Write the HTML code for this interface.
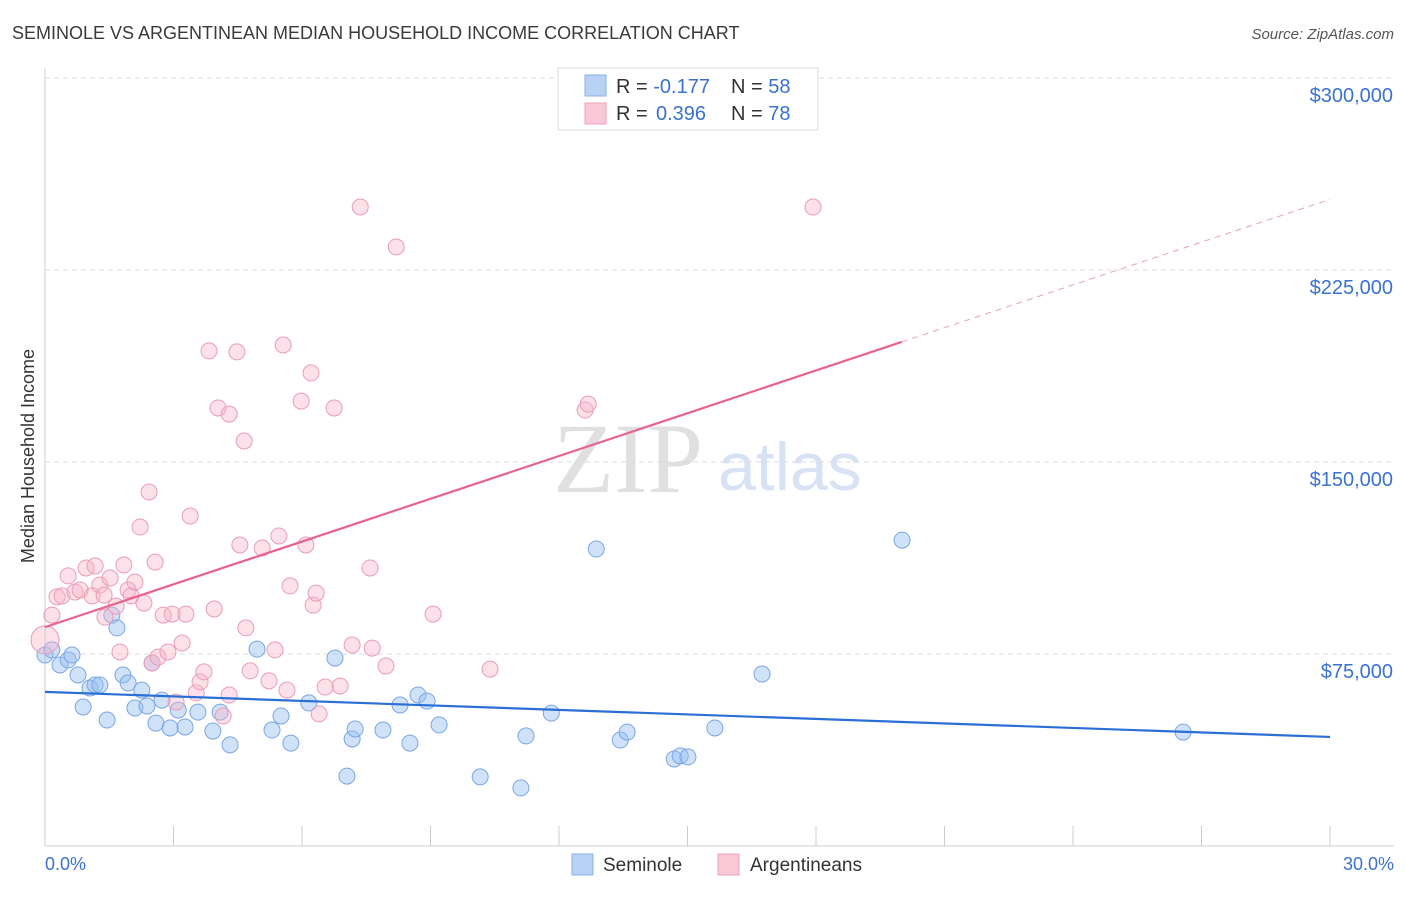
<!DOCTYPE html>
<html><head><meta charset="utf-8"><style>
body{margin:0;background:#fff;font-family:"Liberation Sans",sans-serif;}
</style></head><body>
<svg id="c" width="1406" height="892" xmlns="http://www.w3.org/2000/svg" font-family="Liberation Sans, sans-serif">
<text x="12" y="39" font-size="18" fill="#3a3a3a">SEMINOLE VS ARGENTINEAN MEDIAN HOUSEHOLD INCOME CORRELATION CHART</text>
<text x="1394" y="39" font-size="15" fill="#555" font-style="italic" text-anchor="end">Source: ZipAtlas.com</text>
<text x="553" y="492" font-size="100" fill="#e0e0e0" style="font-family:'Liberation Serif',serif">ZIP</text>
<text x="718" y="490" font-size="68" fill="#d7e3f4">atlas</text>
<text transform="translate(34,456) rotate(-90)" font-size="18" fill="#333" text-anchor="middle">Median Household Income</text>
<g id="grid"></g><g id="pts"></g><g id="trend"></g>
<g>
<rect x="558" y="68" width="260" height="62" fill="#fff" stroke="#ddd"/>
<rect x="585" y="75" width="21" height="21" fill="#b8d2f5" stroke="#8ab0e6"/>
<rect x="585" y="103" width="21" height="21" fill="#f9c7d6" stroke="#eea3bb"/>
<text x="616" y="93" font-size="20" fill="#333">R = <tspan fill="#3a72d0">-0.177</tspan></text>
<text x="731" y="93" font-size="20" fill="#333">N = <tspan fill="#3a72d0">58</tspan></text>
<text x="616" y="120" font-size="20" fill="#333">R = <tspan fill="#3a72d0" x="656">0.396</tspan></text>
<text x="731" y="120" font-size="20" fill="#333">N = <tspan fill="#3a72d0">78</tspan></text>
</g>
<g>
<rect x="572" y="854" width="21" height="21" fill="#b8d2f5" stroke="#8ab0e6"/>
<text x="603" y="871" font-size="19" fill="#333">Seminole</text>
<rect x="718" y="854" width="21" height="21" fill="#f9c7d6" stroke="#eea3bb"/>
<text x="750" y="871" font-size="19" fill="#333">Argentineans</text>
</g>
<text x="45" y="870" font-size="18" fill="#3a72d0">0.0%</text>
<text x="1394" y="870" font-size="18" fill="#3a72d0" text-anchor="end">30.0%</text>
</svg>
<script>
const yTicks=[75,150,225,300];
const xTicks=[0,3,6,9,12,15,18,21,24,27,30];
const blueX=[0,0.16,0.35,0.54,0.63,0.77,0.89,1.05,1.17,1.28,1.45,1.56,1.68,1.82,1.94,2.10,2.26,2.38,2.50,2.59,2.73,2.92,3.11,3.27,3.57,3.92,4.09,4.32,4.95,5.30,5.51,5.74,6.16,6.77,7.05,7.17,7.24,7.89,8.29,8.52,8.71,8.92,9.20,10.16,11.11,11.23,11.82,12.87,13.43,13.59,14.69,14.83,15.01,15.64,16.74,20.01,26.57];
const blueY=[74.6,76.6,70.7,72.7,74.6,66.8,54.3,61.7,62.9,62.9,49.2,90.2,85.2,66.8,63.7,53.9,60.9,54.7,71.5,48.0,57.0,46.1,53.1,46.5,52.3,44.9,52.3,39.5,76.9,45.3,50.8,40.2,55.9,73.4,27.3,41.8,45.7,45.3,55.1,40.2,59.0,56.6,47.3,27.0,22.7,43.0,51.9,116.0,41.4,44.5,34.0,35.2,34.8,46.1,67.2,119.5,44.5];
const pinkX=[0,0.16,0.28,0.40,0.54,0.70,0.82,0.96,1.10,1.17,1.28,1.38,1.52,1.40,1.66,1.75,1.84,1.94,2.01,2.10,2.22,2.31,2.43,2.50,2.57,2.64,2.76,2.87,2.97,3.06,3.20,3.29,3.39,3.53,3.62,3.71,3.83,3.95,4.04,4.16,4.30,4.30,4.48,4.55,4.65,4.69,4.79,5.07,5.23,5.37,5.46,5.56,5.65,5.72,5.98,6.09,6.21,6.26,6.33,6.40,6.54,6.75,6.89,7.17,7.36,7.59,7.64,7.96,8.20,9.06,10.39,12.61,12.68,17.93];
const pinkY=[80.5,90.2,97.3,97.7,105.5,99.2,100.0,108.6,97.7,109.4,101.9,98.0,104.7,89.4,93.7,75.8,109.8,100.0,97.7,103.1,124.6,94.9,138.3,71.5,110.9,73.8,90.2,75.8,90.6,56.2,79.3,90.6,128.9,59.8,64.1,68.0,193.4,92.6,171.1,50.8,168.7,59.0,193.0,117.6,158.2,85.2,68.4,116.4,64.5,76.6,121.1,195.7,60.9,101.6,173.8,117.6,184.8,94.1,98.8,51.6,62.1,171.1,62.5,78.5,249.6,108.6,77.3,70.3,234.0,90.6,69.1,170.3,172.6,249.6];
const blueTrend=[60.2,42.6];
const pinkTrend=[85.5,252.6];
const NS='http://www.w3.org/2000/svg';
const X0=45,X1=1330,Y0=846,YT=78;
const sx=v=>X0+(v/30)*(X1-X0);
const sy=v=>Y0-(v/300)*(Y0-YT);
function mk(t,a,p){const e=document.createElementNS(NS,t);for(const k in a)e.setAttribute(k,a[k]);p.appendChild(e);return e;}
const g=document.getElementById('grid');
yTicks.forEach(v=>{
 const l=mk('line',{x1:45,x2:1394,y1:sy(v),y2:sy(v),stroke:'#ddd','stroke-dasharray':'5,4'},g);
 
 
 const t=mk('text',{x:1393,y:sy(v)+24,'font-size':20,fill:'#3a72d0','text-anchor':'end'},g);
 t.textContent='$'+(v*1000).toLocaleString('en-US');
 
 
});
const ax=mk('line',{x1:45,x2:45,y1:68,y2:846,stroke:'#ccc'},g);


const bx=mk('line',{x1:45,x2:1394,y1:846,y2:846,stroke:'#ccc'},g);


xTicks.forEach(v=>{
 const l=mk('line',{x1:sx(v),x2:sx(v),y1:826,y2:846,stroke:'#ccc'},g);
 
 
});
const p=document.getElementById('pts');
blueX.forEach((x,i)=>{
 const c=mk('circle',{cx:sx(x),cy:sy(blueY[i]),r:8,fill:'rgba(150,190,240,0.45)',stroke:'#7aa6e6','stroke-width':1},p);
 
 
});
pinkX.forEach((x,i)=>{
 const c=mk('circle',{cx:sx(x),cy:sy(pinkY[i]),r:i==0?14:8,fill:'rgba(248,180,200,0.4)',stroke:'#eb9cb5','stroke-width':1},p);
 
 
});
const tg=document.getElementById('trend');
const bl=mk('line',{x1:sx(0),y1:sy(blueTrend[0]),x2:sx(30),y2:sy(blueTrend[1]),stroke:'#2a6fd6','stroke-width':2.2},tg);


const pk=v=>pinkTrend[0]+(pinkTrend[1]-pinkTrend[0])*v/30;
const pl=mk('line',{x1:sx(0),y1:sy(pk(0)),x2:sx(20),y2:sy(pk(20)),stroke:'#e8628f','stroke-width':2.2},tg);


const pd=mk('line',{x1:sx(20),y1:sy(pk(20)),x2:sx(30),y2:sy(pk(30)),stroke:'#e8a0b8','stroke-width':1,'stroke-dasharray':'6,5'},tg);


</script>
</body></html>
